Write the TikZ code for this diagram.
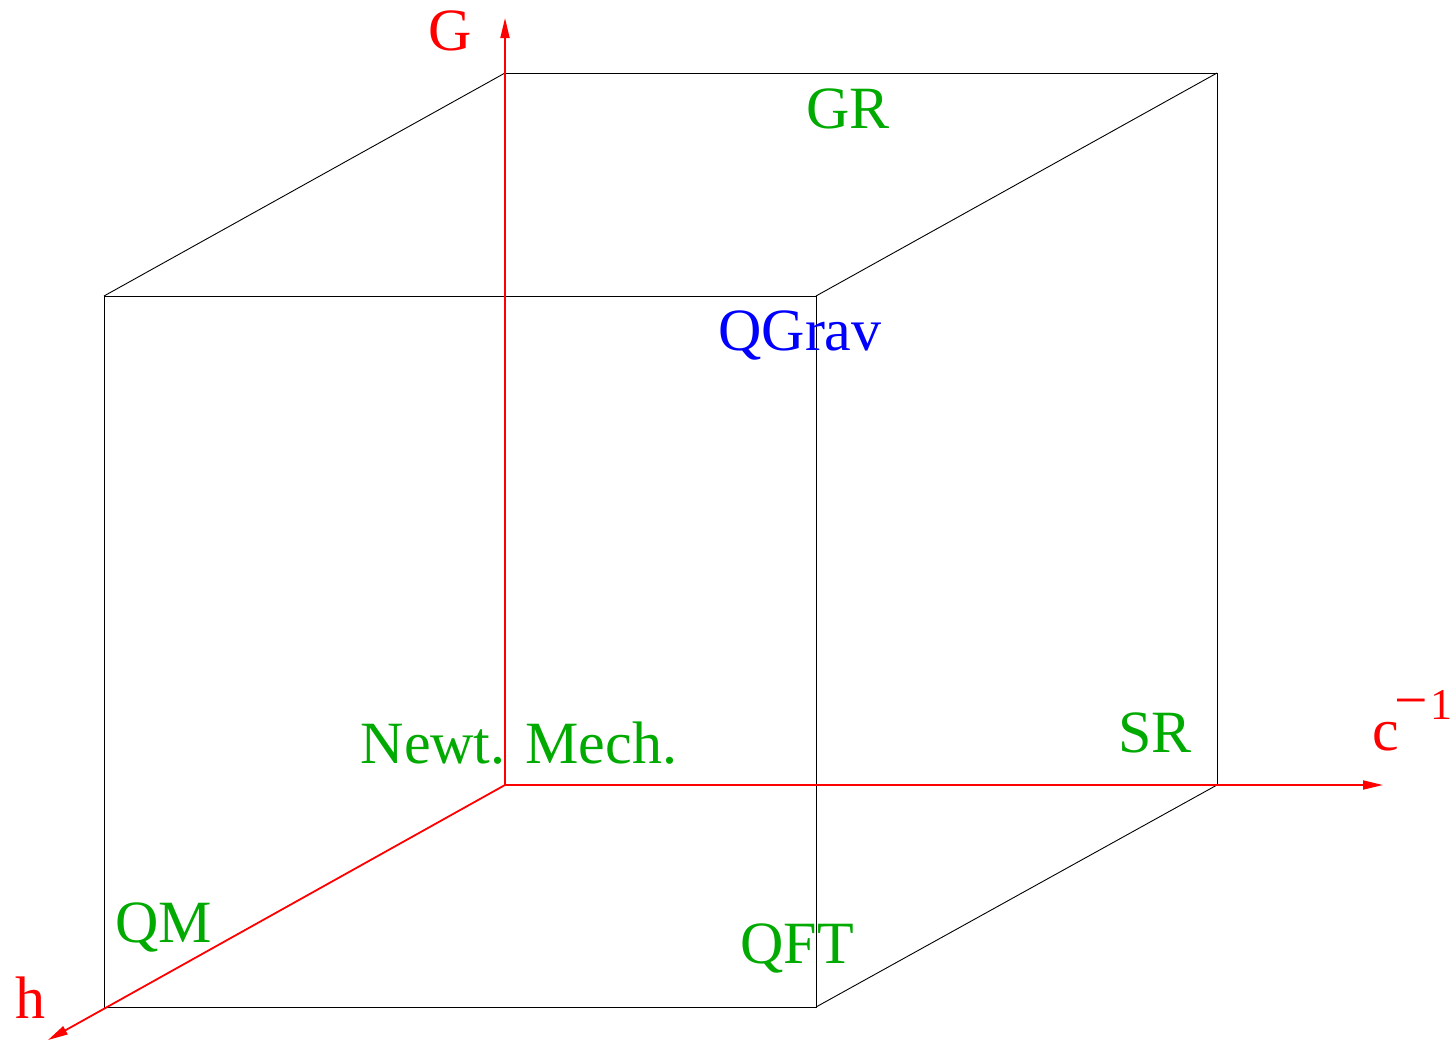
\documentclass[tikz,border=0pt]{standalone}
\usepackage{fontspec}
\usepackage{graphicx}
\setmainfont{Liberation Serif}
\usetikzlibrary{arrows.meta}
\definecolor{lblgreen}{RGB}{0,170,0}
\begin{document}
\begin{tikzpicture}[x=1pt,y=-1pt,
  edge/.style={black,line width=0.9pt},
  axis/.style={red,line width=1.8pt,-{Triangle[length=20pt,width=9pt]}},
  lbl/.style={inner sep=0pt,anchor=base,font=\fontsize{60}{66}\selectfont},
  theory/.style={lbl,text=lblgreen},
  axlbl/.style={lbl,text=red}]
\useasboundingbox (0,0) rectangle (1451,1042);
% cube corners
\coordinate (O) at (505,785);
\coordinate (BT) at (505,73);
\coordinate (BTR) at (1217,73);
\coordinate (BR) at (1217,785);
\coordinate (FTL) at (104,296);
\coordinate (FTR) at (816,296);
\coordinate (FBR) at (816,1007);
\coordinate (FBL) at (104,1007);
% axis ends
\coordinate (Gend) at (505,18);
\coordinate (Cend) at (1383,785);
\coordinate (Hend) at (48,1040);
% cube edges
\draw[edge] (BT) -- (BTR) -- (BR);
\draw[edge] (FTL) -- (FTR) -- (FBR) -- (FBL) -- cycle;
\draw[edge] (FTL) -- (BT);
\draw[edge] (FTR) -- (BTR);
\draw[edge] (FBR) -- (BR);
% axes
\draw[axis] (O) -- (Gend);
\draw[axis] (O) -- (Cend);
\draw[axis] (O) -- (Hend);
% axis labels
\node[axlbl,anchor=base west] (c) at (1372,750) {c\kern-4pt\raisebox{31pt}{\fontsize{44}{44}\selectfont\scalebox{1.35}[1.3]{−}\kern2pt 1}};
\node[axlbl] (G) at (450,50) {G};
\node[axlbl] (h) at (30,1018) {h};
% theory labels
\node[theory] (GR) at (848,128) {GR};
\node[lbl,text=blue] (QGrav) at (800,350) {QGrav};
\node[theory] (NM) at (519,763) {Newt. Mech.};
\node[theory] (SR) at (1155,752) {SR};
\node[theory] (QM) at (164,942) {QM};
\node[theory] (QFT) at (797,963) {QFT};
\end{tikzpicture}
\end{document}
